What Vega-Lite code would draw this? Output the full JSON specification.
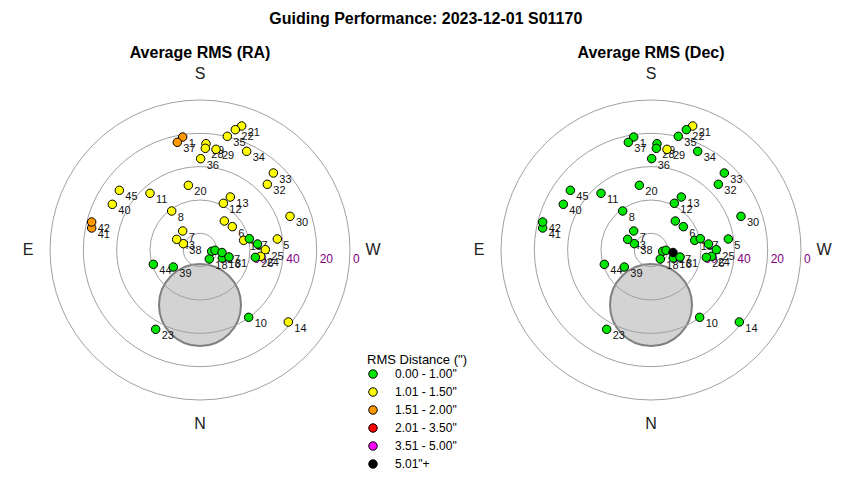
{
  "$schema": "https://vega.github.io/schema/vega-lite/v6.json",
  "padding": {"left": 20, "top": 11, "right": 5, "bottom": 5},
  "background": "white",
  "title": {"text": "Guiding Performance: 2023-12-01 S01170", "font": "Liberation Sans", "fontSize": 16, "fontWeight": "bold", "color": "#000000", "anchor": "middle", "offset": 18},
  "bounds": "flush",
  "spacing": 91,
  "resolve": {"scale": {"color": "shared"}, "legend": {"color": "shared"}},
  "config": {"view": {"stroke": null}},
  "datasets": {
    "pts": [
      {"n": "1", "x": -10.4, "y": 67.8, "ra": "1.51 - 2.00\"", "dec": "0.00 - 1.00\""},
      {"n": "2", "x": 34.5, "y": 3.6, "ra": "0.00 - 1.00\"", "dec": "0.00 - 1.00\""},
      {"n": "3", "x": 14.6, "y": 17.4, "ra": "1.01 - 1.50\"", "dec": "0.00 - 1.00\""},
      {"n": "4", "x": 7.0, "y": -0.8, "ra": "0.00 - 1.00\"", "dec": "0.00 - 1.00\""},
      {"n": "5", "x": 46.4, "y": 6.6, "ra": "1.01 - 1.50\"", "dec": "0.00 - 1.00\""},
      {"n": "6", "x": 19.4, "y": 14.0, "ra": "1.01 - 1.50\"", "dec": "0.00 - 1.00\""},
      {"n": "7", "x": -10.4, "y": 11.4, "ra": "1.01 - 1.50\"", "dec": "0.00 - 1.00\""},
      {"n": "8", "x": -17.0, "y": 23.4, "ra": "1.01 - 1.50\"", "dec": "0.00 - 1.00\""},
      {"n": "9", "x": 9.0, "y": -0.2, "ra": "0.00 - 1.00\"", "dec": "0.00 - 1.00\""},
      {"n": "10", "x": 29.2, "y": -40.4, "ra": "0.00 - 1.00\"", "dec": "0.00 - 1.00\""},
      {"n": "11", "x": -30.0, "y": 34.0, "ra": "1.01 - 1.50\"", "dec": "0.00 - 1.00\""},
      {"n": "12", "x": 14.0, "y": 28.0, "ra": "1.01 - 1.50\"", "dec": "0.00 - 1.00\""},
      {"n": "13", "x": 18.2, "y": 31.8, "ra": "1.01 - 1.50\"", "dec": "0.00 - 1.00\""},
      {"n": "14", "x": 53.0, "y": -43.2, "ra": "1.01 - 1.50\"", "dec": "0.00 - 1.00\""},
      {"n": "15", "x": 26.2, "y": 5.8, "ra": "1.01 - 1.50\"", "dec": "0.00 - 1.00\""},
      {"n": "16", "x": 13.4, "y": -4.8, "ra": "0.00 - 1.00\"", "dec": "0.00 - 1.00\""},
      {"n": "17", "x": 29.6, "y": 6.8, "ra": "0.00 - 1.00\"", "dec": "0.00 - 1.00\""},
      {"n": "18", "x": 5.6, "y": -5.4, "ra": "0.00 - 1.00\"", "dec": "0.00 - 1.00\""},
      {"n": "19", "x": 3.6, "y": 63.8, "ra": "1.01 - 1.50\"", "dec": "0.00 - 1.00\""},
      {"n": "20", "x": -7.0, "y": 38.8, "ra": "1.01 - 1.50\"", "dec": "0.00 - 1.00\""},
      {"n": "21", "x": 25.0, "y": 74.4, "ra": "1.01 - 1.50\"", "dec": "1.01 - 1.50\""},
      {"n": "22", "x": 21.2, "y": 72.2, "ra": "1.01 - 1.50\"", "dec": "0.00 - 1.00\""},
      {"n": "23", "x": -26.6, "y": -47.6, "ra": "0.00 - 1.00\"", "dec": "0.00 - 1.00\""},
      {"n": "24", "x": 36.4, "y": -3.8, "ra": "1.01 - 1.50\"", "dec": "0.00 - 1.00\""},
      {"n": "25", "x": 39.2, "y": 0.2, "ra": "1.01 - 1.50\"", "dec": "0.00 - 1.00\""},
      {"n": "26", "x": 33.2, "y": -4.4, "ra": "0.00 - 1.00\"", "dec": "0.00 - 1.00\""},
      {"n": "27", "x": 13.2, "y": -1.5, "ra": "0.00 - 1.00\"", "dec": "5.01\"+"},
      {"n": "28", "x": 3.2, "y": 61.0, "ra": "1.01 - 1.50\"", "dec": "0.00 - 1.00\""},
      {"n": "29", "x": 9.6, "y": 60.4, "ra": "1.01 - 1.50\"", "dec": "1.01 - 1.50\""},
      {"n": "30", "x": 54.0, "y": 20.2, "ra": "1.01 - 1.50\"", "dec": "0.00 - 1.00\""},
      {"n": "31", "x": 17.4, "y": -4.2, "ra": "0.00 - 1.00\"", "dec": "0.00 - 1.00\""},
      {"n": "32", "x": 40.4, "y": 39.4, "ra": "1.01 - 1.50\"", "dec": "0.00 - 1.00\""},
      {"n": "33", "x": 44.0, "y": 46.2, "ra": "1.01 - 1.50\"", "dec": "0.00 - 1.00\""},
      {"n": "34", "x": 28.0, "y": 59.2, "ra": "1.01 - 1.50\"", "dec": "0.00 - 1.00\""},
      {"n": "35", "x": 16.4, "y": 68.2, "ra": "1.01 - 1.50\"", "dec": "0.00 - 1.00\""},
      {"n": "36", "x": 0.4, "y": 54.8, "ra": "1.01 - 1.50\"", "dec": "0.00 - 1.00\""},
      {"n": "37", "x": -13.6, "y": 64.6, "ra": "1.51 - 2.00\"", "dec": "0.00 - 1.00\""},
      {"n": "38", "x": -10.0, "y": 3.8, "ra": "1.01 - 1.50\"", "dec": "0.00 - 1.00\""},
      {"n": "39", "x": -16.0, "y": -10.2, "ra": "0.00 - 1.00\"", "dec": "0.00 - 1.00\""},
      {"n": "40", "x": -52.6, "y": 27.4, "ra": "1.01 - 1.50\"", "dec": "0.00 - 1.00\""},
      {"n": "41", "x": -65.0, "y": 13.2, "ra": "1.51 - 2.00\"", "dec": "0.00 - 1.00\""},
      {"n": "42", "x": -65.0, "y": 16.8, "ra": "1.51 - 2.00\"", "dec": "0.00 - 1.00\""},
      {"n": "43", "x": -14.0, "y": 6.4, "ra": "1.01 - 1.50\"", "dec": "0.00 - 1.00\""},
      {"n": "44", "x": -28.0, "y": -8.6, "ra": "0.00 - 1.00\"", "dec": "0.00 - 1.00\""},
      {"n": "45", "x": -48.4, "y": 35.8, "ra": "1.01 - 1.50\"", "dec": "0.00 - 1.00\""}
    ],
    "zone": [{"x": 0, "y": -33, "zd": 24.6}],
    "rings": [{"alt": 0, "zd": 90}, {"alt": 20, "zd": 70}, {"alt": 40, "zd": 50}, {"alt": 60, "zd": 30}, {"alt": 80, "zd": 10}],
    "dirs": [
      {"t": "S", "x": 0, "y": 105.6},
      {"t": "N", "x": 0, "y": -104.4},
      {"t": "E", "x": -103.2, "y": 0},
      {"t": "W", "x": 103.8, "y": 0}
    ]
  },
  "hconcat": [
    {
      "width": 360,
      "height": 360,
      "title": {"text": "Average RMS (RA)", "font": "Liberation Sans", "fontSize": 16, "fontWeight": "bold", "color": "#000000", "offset": 5},
      "layer": [
        {
          "data": {"name": "zone"},
          "mark": {"type": "point", "shape": "circle", "filled": true, "fill": "#d3d3d3", "fillOpacity": 1, "stroke": "#808080", "strokeWidth": 2, "strokeOpacity": 1},
          "encoding": {
            "x": {"field": "x", "type": "quantitative", "scale": {"domain": [-108, 108], "nice": false, "zero": false}, "axis": null},
            "y": {"field": "y", "type": "quantitative", "scale": {"domain": [-108, 108], "nice": false, "zero": false}, "axis": null},
            "size": {"field": "zd", "type": "quantitative", "scale": {"type": "pow", "exponent": 2, "domain": [0, 90], "range": [0, 90000], "zero": true, "nice": false}, "legend": null}
          }
        },
        {
          "data": {"name": "rings"},
          "mark": {"type": "point", "shape": "circle", "filled": false, "fill": null, "stroke": "#a0a0a0", "strokeWidth": 1, "opacity": 1},
          "encoding": {
            "x": {"datum": 0, "type": "quantitative"},
            "y": {"datum": 0, "type": "quantitative"},
            "size": {"field": "zd", "type": "quantitative", "legend": null}
          }
        },
        {
          "mark": {"type": "rule", "color": "#808080", "strokeWidth": 1},
          "encoding": {"x": {"datum": -96, "type": "quantitative"}, "x2": {"datum": 96}, "y": {"datum": 0, "type": "quantitative"}}
        },
        {
          "mark": {"type": "rule", "color": "#808080", "strokeWidth": 1},
          "encoding": {"y": {"datum": -96, "type": "quantitative"}, "y2": {"datum": 96}, "x": {"datum": 0, "type": "quantitative"}}
        },
        {
          "data": {"name": "rings"},
          "mark": {"type": "text", "align": "left", "baseline": "middle", "dx": 3, "dy": 9, "color": "#800080", "font": "Liberation Sans", "fontSize": 12},
          "encoding": {
            "x": {"field": "zd", "type": "quantitative"},
            "y": {"datum": 0, "type": "quantitative"},
            "text": {"field": "alt", "type": "quantitative"}
          }
        },
        {
          "mark": {"type": "text", "align": "left", "baseline": "middle", "dx": 2, "color": "#800080", "font": "Liberation Sans", "fontSize": 13},
          "encoding": {"x": {"datum": 90, "type": "quantitative"}, "y": {"datum": -15.6, "type": "quantitative"}, "text": {"value": "Altitude"}}
        },
        {
          "data": {"name": "dirs"},
          "mark": {"type": "text", "align": "center", "baseline": "middle", "color": "#222222", "font": "Liberation Sans", "fontSize": 16},
          "encoding": {"x": {"field": "x", "type": "quantitative"}, "y": {"field": "y", "type": "quantitative"}, "text": {"field": "t"}}
        },
        {
          "data": {"name": "pts"},
          "mark": {"type": "text", "align": "left", "baseline": "middle", "dx": 6, "dy": 7, "color": "#111111", "font": "Liberation Sans", "fontSize": 11},
          "encoding": {"x": {"field": "x", "type": "quantitative"}, "y": {"field": "y", "type": "quantitative"}, "text": {"field": "n"}}
        },
        {
          "data": {"name": "pts"},
          "mark": {"type": "point", "shape": "circle", "filled": true, "size": 72, "stroke": "#000000", "strokeWidth": 1, "opacity": 1},
          "encoding": {
            "x": {"field": "x", "type": "quantitative"},
            "y": {"field": "y", "type": "quantitative"},
            "color": {
              "field": "ra", "type": "nominal",
              "scale": {"domain": ["0.00 - 1.00\"", "1.01 - 1.50\"", "1.51 - 2.00\"", "2.01 - 3.50\"", "3.51 - 5.00\"", "5.01\"+"], "range": ["#00e600", "#ffff00", "#ff9900", "#ff0000", "#ff00ff", "#000000"]},
              "legend": {"title": "RMS Distance (\")", "orient": "none", "legendX": 347, "legendY": 284, "titleFont": "Liberation Sans", "titleFontSize": 13, "titleFontWeight": "normal", "titleColor": "#000000", "titlePadding": 1, "labelFont": "Liberation Sans", "labelFontSize": 12, "labelColor": "#000000", "symbolType": "circle", "symbolSize": 72, "symbolStrokeColor": "#000000", "symbolStrokeWidth": 1, "symbolOpacity": 1, "rowPadding": 4, "labelOffset": 16}
            }
          }
        }
      ]
    },
    {
      "width": 360,
      "height": 360,
      "title": {"text": "Average RMS (Dec)", "font": "Liberation Sans", "fontSize": 16, "fontWeight": "bold", "color": "#000000", "offset": 5},
      "layer": [
        {
          "data": {"name": "zone"},
          "mark": {"type": "point", "shape": "circle", "filled": true, "fill": "#d3d3d3", "fillOpacity": 1, "stroke": "#808080", "strokeWidth": 2, "strokeOpacity": 1},
          "encoding": {
            "x": {"field": "x", "type": "quantitative", "scale": {"domain": [-108, 108], "nice": false, "zero": false}, "axis": null},
            "y": {"field": "y", "type": "quantitative", "scale": {"domain": [-108, 108], "nice": false, "zero": false}, "axis": null},
            "size": {"field": "zd", "type": "quantitative", "scale": {"type": "pow", "exponent": 2, "domain": [0, 90], "range": [0, 90000], "zero": true, "nice": false}, "legend": null}
          }
        },
        {
          "data": {"name": "rings"},
          "mark": {"type": "point", "shape": "circle", "filled": false, "fill": null, "stroke": "#a0a0a0", "strokeWidth": 1, "opacity": 1},
          "encoding": {
            "x": {"datum": 0, "type": "quantitative"},
            "y": {"datum": 0, "type": "quantitative"},
            "size": {"field": "zd", "type": "quantitative", "legend": null}
          }
        },
        {
          "mark": {"type": "rule", "color": "#808080", "strokeWidth": 1},
          "encoding": {"x": {"datum": -96, "type": "quantitative"}, "x2": {"datum": 96}, "y": {"datum": 0, "type": "quantitative"}}
        },
        {
          "mark": {"type": "rule", "color": "#808080", "strokeWidth": 1},
          "encoding": {"y": {"datum": -96, "type": "quantitative"}, "y2": {"datum": 96}, "x": {"datum": 0, "type": "quantitative"}}
        },
        {
          "data": {"name": "rings"},
          "mark": {"type": "text", "align": "left", "baseline": "middle", "dx": 3, "dy": 9, "color": "#800080", "font": "Liberation Sans", "fontSize": 12},
          "encoding": {
            "x": {"field": "zd", "type": "quantitative"},
            "y": {"datum": 0, "type": "quantitative"},
            "text": {"field": "alt", "type": "quantitative"}
          }
        },
        {
          "mark": {"type": "text", "align": "left", "baseline": "middle", "dx": 2, "color": "#800080", "font": "Liberation Sans", "fontSize": 13},
          "encoding": {"x": {"datum": 90, "type": "quantitative"}, "y": {"datum": -15.6, "type": "quantitative"}, "text": {"value": "Altitude"}}
        },
        {
          "data": {"name": "dirs"},
          "mark": {"type": "text", "align": "center", "baseline": "middle", "color": "#222222", "font": "Liberation Sans", "fontSize": 16},
          "encoding": {"x": {"field": "x", "type": "quantitative"}, "y": {"field": "y", "type": "quantitative"}, "text": {"field": "t"}}
        },
        {
          "data": {"name": "pts"},
          "mark": {"type": "text", "align": "left", "baseline": "middle", "dx": 6, "dy": 7, "color": "#111111", "font": "Liberation Sans", "fontSize": 11},
          "encoding": {"x": {"field": "x", "type": "quantitative"}, "y": {"field": "y", "type": "quantitative"}, "text": {"field": "n"}}
        },
        {
          "data": {"name": "pts"},
          "mark": {"type": "point", "shape": "circle", "filled": true, "size": 72, "stroke": "#000000", "strokeWidth": 1, "opacity": 1},
          "encoding": {
            "x": {"field": "x", "type": "quantitative"},
            "y": {"field": "y", "type": "quantitative"},
            "color": {
              "field": "dec", "type": "nominal",
              "scale": {"domain": ["0.00 - 1.00\"", "1.01 - 1.50\"", "1.51 - 2.00\"", "2.01 - 3.50\"", "3.51 - 5.00\"", "5.01\"+"], "range": ["#00e600", "#ffff00", "#ff9900", "#ff0000", "#ff00ff", "#000000"]},
              "legend": {"title": "RMS Distance (\")", "orient": "none", "legendX": 347, "legendY": 284}
            }
          }
        }
      ]
    }
  ]
}
